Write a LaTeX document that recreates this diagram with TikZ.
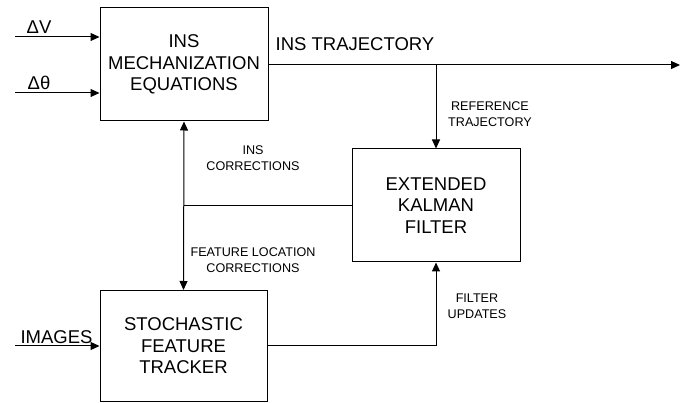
\documentclass[tikz,border=0pt]{standalone}
\usepackage{fontspec}
\setmainfont{Liberation Sans}
\usetikzlibrary{arrows.meta,positioning,calc}
\tikzset{
  blockbox/.style={draw, line width=1pt, minimum width=168pt,
    minimum height=113pt, inner sep=0pt, align=center,
    font=\fontsize{18.5}{21.5}\selectfont},
  biglabel/.style={font=\fontsize{18.5}{21.5}\selectfont, inner sep=0pt},
  smalllabel/.style={font=\fontsize{12.6}{15.5}\selectfont, align=center,
    inner sep=0pt},
  arr/.style={-{Triangle[length=9pt,width=8pt]}, line width=1pt},
  darr/.style={{Triangle[length=9pt,width=8pt]}-{Triangle[length=9pt,width=8pt]},
    line width=1pt},
  plain/.style={line width=1pt},
}

\begin{document}
\begin{tikzpicture}[x=1pt, y=-1pt]
  \useasboundingbox (0,0) rectangle (691,403);

  % blocks
  \node[blockbox] (ins) at (184,64.5) {INS\\MECHANIZATION\\EQUATIONS};
  \node[blockbox] (ekf) at (436,205.5) {EXTENDED\\KALMAN\\FILTER};
  \node[blockbox, minimum width=167pt, minimum height=111pt]
    (sft) at (183.5,346) {STOCHASTIC\\FEATURE\\TRACKER};

  % free ends of the inputs and the output
  \coordinate (dvin) at (15,37);
  \coordinate (dthin) at (15,93);
  \coordinate (imgin) at (15,346);
  \coordinate (trajout) at (680,65);

  % inputs
  \draw[arr] (dvin) -- (dvin -| ins.west);
  \draw[arr] (dthin) -- (dthin -| ins.west);
  \draw[arr] (imgin) -- (sft.west);
  \node[biglabel] (dvlab) at (39,27) {ΔV};
  \node[biglabel] (dthlab) at (39,83) {Δθ};
  \node[biglabel] (imglab) at (56.5,337) {IMAGES};

  % INS trajectory out, reference trajectory down to the filter
  \draw[arr] (ins.east |- trajout) -- (trajout);
  \draw[arr] (ekf.north |- trajout) -- (ekf.north);
  \node[biglabel] (trajlab) at (355,44.5) {INS TRAJECTORY};
  \node[smalllabel] (reflab) at (490,114) {REFERENCE\\TRAJECTORY};

  % corrections from the filter
  \draw[darr] (ins.south) -- (sft.north);
  \draw[plain] (ekf.west) -- (ekf.west -| ins.south);
  \node[smalllabel] (inscorr) at (253,158) {INS\\CORRECTIONS};
  \node[smalllabel] (featcorr) at (253,260) {FEATURE LOCATION\\CORRECTIONS};

  % filter updates from the tracker
  \draw[arr] (sft.east) -| (ekf.south);
  \node[smalllabel] (updlab) at (477,306) {FILTER\\UPDATES};
\end{tikzpicture}
\end{document}
